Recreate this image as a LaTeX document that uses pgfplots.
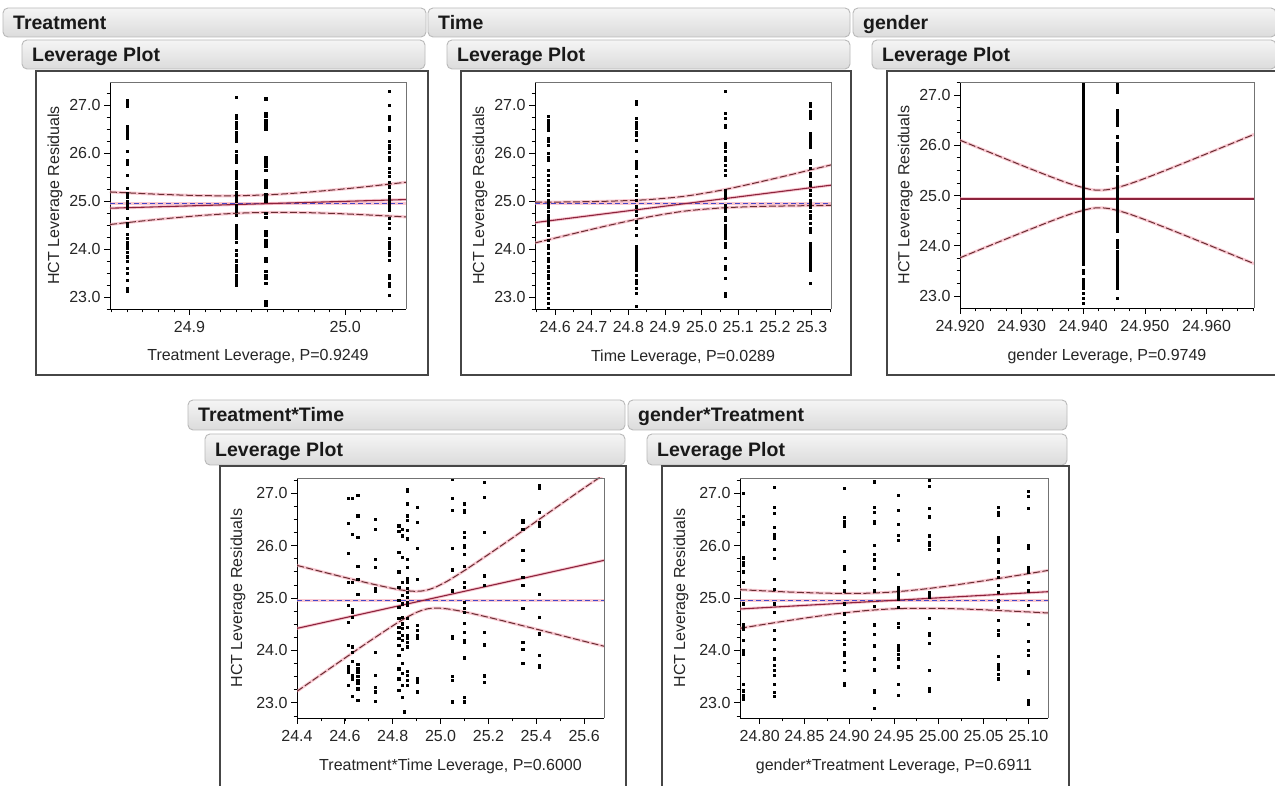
\documentclass[border=0pt]{standalone}
\usepackage{pgfplots}
\pgfplotsset{compat=1.18}
\usepackage{fontspec}
\setmainfont{Liberation Sans}
\definecolor{haloc}{RGB}{245,165,180}
\definecolor{fitc}{RGB}{140,35,60}
\definecolor{cic}{RGB}{105,45,50}
\definecolor{meanc}{RGB}{70,70,200}
\definecolor{hdrb}{RGB}{185,185,185}
\definecolor{framec}{RGB}{70,70,70}
\pgfplotsset{
  lev/.style={
    scale only axis, anchor=south west, clip=true,
    axis x line*=bottom, axis y line*=left,
    axis line style={black, line width=0.9pt, -},
    tick align=outside,
    major tick length=6pt, minor tick length=3.5pt,
    every tick/.append style={black, line width=0.8pt},
    every minor tick/.append style={black, line width=0.7pt},
    tick label style={font=\fontsize{16}{18}\selectfont, text=black!85},
    xticklabel style={yshift=-3pt},
    label style={font=\fontsize{16}{18}\selectfont, text=black!85},
    ylabel={HCT Leverage Residuals},
    ytick={23,24,25,26,27},
    yticklabels={23.0,24.0,25.0,26.0,27.0},
    minor ytick={22.75,23,...,27.25},
    after end axis/.code={\draw[black!55, line width=0.8pt] (rel axis cs:0,1) -- (rel axis cs:1,1) -- (rel axis cs:1,0);},
  },
  pts/.style={only marks, mark=square*, mark size=1.1pt, mark options={fill=black, draw=none}},
  halo/.style={no marks, line width=3pt, color=haloc, opacity=0.6},
  fit/.style={no marks, line width=1.1pt, color=fitc},
  ci/.style={no marks, line width=1pt, color=cic, dash pattern=on 7pt off 2.5pt},
  mean/.style={no marks, line width=1pt, color=meanc, dash pattern=on 5pt off 3pt},
}
\newcommand{\hdr}[5]{%
  \draw[rounded corners=5pt, draw=hdrb, line width=0.9pt, top color=white!96!black, bottom color=white!86!black] (#1,#2) rectangle (#3,#4);
  \node[anchor=base west, font=\fontsize{19.5}{21}\selectfont\bfseries, inner sep=0pt, text=black!90] at ({#1+10},{(#2+#4)/2-7}) {#5};}
\begin{document}
\begin{tikzpicture}[x=1pt,y=1pt]
\useasboundingbox (0,0) rectangle (1275,786);
\fill[white] (0,0) rectangle (1275,786);
% chrome top row
\hdr{3}{749}{426}{778}{Treatment}
\hdr{428}{749}{850}{778}{Time}
\hdr{853}{749}{1276}{778}{gender}
\hdr{22}{717}{425}{746}{Leverage Plot}
\hdr{447}{717}{850}{746}{Leverage Plot}
\hdr{872}{717}{1276}{746}{Leverage Plot}
\draw[framec, line width=1.2pt, fill=white] (36,411) rectangle (428,715);
\draw[framec, line width=1.2pt, fill=white] (461,411) rectangle (851,715);
\draw[framec, line width=1.2pt, fill=white] (887,411) rectangle (1280,715);
% chrome bottom row
\hdr{188}{356}{625}{386}{Treatment*Time}
\hdr{628}{356}{1067}{386}{gender*Treatment}
\hdr{205}{321}{625}{352}{Leverage Plot}
\hdr{647}{321}{1067}{352}{Leverage Plot}
\draw[framec, line width=1.2pt, fill=white] (220,-5) rectangle (626,320);
\draw[framec, line width=1.2pt, fill=white] (662,-5) rectangle (1069,320);

% ---------- Panel 1: Treatment ----------
\begin{axis}[lev, at={(110pt,477pt)}, width=296pt, height=227pt,
  xmin=24.849, xmax=25.039, ymin=22.75, ymax=27.48,
  xtick={24.9,25.0}, xticklabels={24.9,25.0},
  minor xtick={24.85,24.86,...,25.03},
  xlabel={Treatment Leverage, P=0.9249},
  ylabel style={at={(axis description cs:-0.186,0.5)}, anchor=center},
  xlabel style={at={(axis description cs:0.5,-0.211)}, anchor=center}]
\addplot[halo] coordinates {(24.849,24.94) (25.039,24.94)};
\addplot[halo] coordinates {(24.849,24.850) (25.039,25.030)};
\addplot[halo, smooth] coordinates {(24.849,25.189) (24.87,25.155) (24.89,25.129) (24.91,25.111) (24.93,25.110) (24.95,25.129) (24.97,25.168) (24.99,25.224) (25.01,25.287) (25.039,25.391)};
\addplot[halo, smooth] coordinates {(24.849,24.511) (24.87,24.585) (24.89,24.649) (24.91,24.704) (24.93,24.744) (24.95,24.763) (24.97,24.761) (24.99,24.744) (25.01,24.717) (25.039,24.669)};
\addplot[mean] coordinates {(24.849,24.94) (25.039,24.94)};
\addplot[fit] coordinates {(24.849,24.850) (25.039,25.030)};
\addplot[ci, smooth] coordinates {(24.849,25.189) (24.87,25.155) (24.89,25.129) (24.91,25.111) (24.93,25.110) (24.95,25.129) (24.97,25.168) (24.99,25.224) (25.01,25.287) (25.039,25.391)};
\addplot[ci, smooth] coordinates {(24.849,24.511) (24.87,24.585) (24.89,24.649) (24.91,24.704) (24.93,24.744) (24.95,24.763) (24.97,24.761) (24.99,24.744) (25.01,24.717) (25.039,24.669)};
\addplot[pts] coordinates {(24.860,27.10)(24.860,27.07)(24.860,27.01)(24.860,26.97)(24.860,26.55)(24.860,26.50)(24.860,26.44)(24.860,26.38)(24.860,26.31)(24.860,26.04)(24.860,25.85)(24.860,25.80)(24.860,25.76)(24.860,25.54)(24.860,25.26)(24.860,25.16)(24.860,25.09)(24.860,25.00)(24.860,24.95)(24.860,24.90)(24.860,24.85)(24.860,24.64)(24.860,24.53)(24.860,24.47)(24.860,24.31)(24.860,24.22)(24.860,24.15)(24.860,24.07)(24.860,24.01)(24.860,23.94)(24.860,23.84)(24.860,23.74)(24.860,23.60)(24.860,23.49)(24.860,23.35)(24.860,23.18)(24.860,23.12)};
\addplot[pts] coordinates {(24.930,27.17)(24.930,26.79)(24.930,26.72)(24.930,26.65)(24.930,26.58)(24.930,26.51)(24.930,26.44)(24.930,26.38)(24.930,26.31)(24.930,26.24)(24.930,26.03)(24.930,25.96)(24.930,25.89)(24.930,25.82)(24.930,25.61)(24.930,25.54)(24.930,25.47)(24.930,25.40)(24.930,25.33)(24.930,25.26)(24.930,25.19)(24.930,25.13)(24.930,25.06)(24.930,24.99)(24.930,24.92)(24.930,24.85)(24.930,24.78)(24.930,24.71)(24.930,24.50)(24.930,24.43)(24.930,24.36)(24.930,24.29)(24.930,24.22)(24.930,24.15)(24.930,23.98)(24.930,23.88)(24.930,23.77)(24.930,23.74)(24.930,23.67)(24.930,23.60)(24.930,23.53)(24.930,23.46)(24.930,23.39)(24.930,23.32)(24.930,23.25)};
\addplot[pts] coordinates {(24.949,27.13)(24.949,26.83)(24.949,26.76)(24.949,26.69)(24.949,26.62)(24.949,26.55)(24.949,26.50)(24.949,25.92)(24.949,25.85)(24.949,25.78)(24.949,25.72)(24.949,25.65)(24.949,25.44)(24.949,25.37)(24.949,25.30)(24.949,25.13)(24.949,25.06)(24.949,24.99)(24.949,24.74)(24.949,24.67)(24.949,24.36)(24.949,24.29)(24.949,24.19)(24.949,24.12)(24.949,24.05)(24.949,23.81)(24.949,23.74)(24.949,23.53)(24.949,23.46)(24.949,23.39)(24.949,23.28)(24.949,22.90)(24.949,22.83)};
\addplot[pts] coordinates {(25.028,27.29)(25.028,27.00)(25.028,26.76)(25.028,26.71)(25.028,26.53)(25.028,26.48)(25.028,26.25)(25.028,26.17)(25.028,26.10)(25.028,26.01)(25.028,25.92)(25.028,25.85)(25.028,25.68)(25.028,25.60)(25.028,25.51)(25.028,25.40)(25.028,25.30)(25.028,25.19)(25.028,25.09)(25.028,25.02)(25.028,24.95)(25.028,24.88)(25.028,24.81)(25.028,24.64)(25.028,24.53)(25.028,24.43)(25.028,24.22)(25.028,24.15)(25.028,24.08)(25.028,24.01)(25.028,23.94)(25.028,23.88)(25.028,23.77)(25.028,23.46)(25.028,23.39)(25.028,23.28)(25.028,23.22)(25.028,23.04)};
\end{axis}

% ---------- Panel 2: Time ----------
\begin{axis}[lev, at={(535pt,477pt)}, width=296pt, height=227pt,
  xmin=24.545, xmax=25.353, ymin=22.75, ymax=27.48,
  xtick={24.6,24.7,24.8,24.9,25.0,25.1,25.2,25.3},
  xticklabels={24.6,24.7,24.8,24.9,25.0,25.1,25.2,25.3},
  minor xtick={24.55,24.60,...,25.35},
  xlabel={Time Leverage, P=0.0289},
  ylabel style={at={(axis description cs:-0.186,0.5)}, anchor=center},
  xlabel style={at={(axis description cs:0.5,-0.211)}, anchor=center}]
\addplot[halo] coordinates {(24.545,24.94) (25.353,24.94)};
\addplot[halo] coordinates {(24.545,24.550) (25.353,25.330)};
\addplot[halo, smooth] coordinates {(24.545,24.974) (24.65,24.982) (24.75,24.997) (24.85,25.027) (24.95,25.096) (25.05,25.220) (25.15,25.383) (25.25,25.561) (25.353,25.752)};
\addplot[halo, smooth] coordinates {(24.545,24.126) (24.65,24.320) (24.75,24.499) (24.85,24.661) (24.95,24.786) (25.05,24.854) (25.15,24.885) (25.25,24.899) (25.353,24.908)};
\addplot[mean] coordinates {(24.545,24.94) (25.353,24.94)};
\addplot[fit] coordinates {(24.545,24.550) (25.353,25.330)};
\addplot[ci, smooth] coordinates {(24.545,24.974) (24.65,24.982) (24.75,24.997) (24.85,25.027) (24.95,25.096) (25.05,25.220) (25.15,25.383) (25.25,25.561) (25.353,25.752)};
\addplot[ci, smooth] coordinates {(24.545,24.126) (24.65,24.320) (24.75,24.499) (24.85,24.661) (24.95,24.786) (25.05,24.854) (25.15,24.885) (25.25,24.899) (25.353,24.908)};
\addplot[pts] coordinates {(24.58,26.76)(24.58,26.69)(24.58,26.62)(24.58,26.55)(24.58,26.48)(24.58,26.31)(24.58,26.24)(24.58,26.17)(24.58,25.99)(24.58,25.92)(24.58,25.85)(24.58,25.65)(24.58,25.54)(24.58,25.44)(24.58,25.33)(24.58,25.23)(24.58,25.13)(24.58,25.02)(24.58,24.95)(24.58,24.88)(24.58,24.78)(24.58,24.71)(24.58,24.64)(24.58,24.57)(24.58,24.50)(24.58,24.40)(24.58,24.29)(24.58,24.19)(24.58,24.08)(24.58,24.01)(24.58,23.91)(24.58,23.81)(24.58,23.74)(24.58,23.63)(24.58,23.53)(24.58,23.46)(24.58,23.39)(24.58,23.28)(24.58,23.18)(24.58,23.08)(24.58,22.97)(24.58,22.87)(24.58,22.77)};
\addplot[pts] coordinates {(24.821,27.08)(24.821,27.01)(24.821,26.72)(24.821,26.65)(24.821,26.58)(24.821,26.51)(24.821,26.44)(24.821,26.38)(24.821,26.27)(24.821,26.03)(24.821,25.82)(24.821,25.75)(24.821,25.68)(24.821,25.51)(24.821,25.33)(24.821,25.23)(24.821,25.13)(24.821,25.02)(24.821,24.88)(24.821,24.78)(24.821,24.71)(24.821,24.57)(24.821,24.43)(24.821,24.29)(24.821,24.05)(24.821,23.98)(24.821,23.91)(24.821,23.84)(24.821,23.77)(24.821,23.70)(24.821,23.63)(24.821,23.56)(24.821,23.46)(24.821,23.35)(24.821,23.28)(24.821,23.18)(24.821,23.08)(24.821,22.80)};
\addplot[pts] coordinates {(25.064,27.28)(25.064,26.83)(25.064,26.72)(25.064,26.58)(25.064,26.53)(25.064,26.20)(25.064,26.13)(25.064,26.03)(25.064,25.92)(25.064,25.85)(25.064,25.75)(25.064,25.65)(25.064,25.54)(25.064,25.23)(25.064,25.18)(25.064,25.14)(25.064,25.10)(25.064,25.06)(25.064,24.92)(25.064,24.85)(25.064,24.78)(25.064,24.67)(25.064,24.60)(25.064,24.50)(25.064,24.43)(25.064,24.36)(25.064,24.29)(25.064,24.22)(25.064,24.12)(25.064,24.05)(25.064,23.81)(25.064,23.63)(25.064,23.58)(25.064,23.39)(25.064,23.08)(25.064,23.01)};
\addplot[pts] coordinates {(25.297,27.03)(25.297,26.97)(25.297,26.86)(25.297,26.79)(25.297,26.72)(25.297,26.41)(25.297,26.34)(25.297,26.27)(25.297,26.20)(25.297,26.13)(25.297,25.85)(25.297,25.78)(25.297,25.68)(25.297,25.58)(25.297,25.51)(25.297,25.40)(25.297,25.33)(25.297,25.23)(25.297,25.13)(25.297,25.02)(25.297,24.95)(25.297,24.88)(25.297,24.78)(25.297,24.71)(25.297,24.64)(25.297,24.53)(25.297,24.43)(25.297,24.36)(25.297,24.12)(25.297,24.05)(25.297,23.98)(25.297,23.91)(25.297,23.84)(25.297,23.77)(25.297,23.70)(25.297,23.63)(25.297,23.56)(25.297,23.28)};
\end{axis}

% ---------- Panel 3: gender ----------
\begin{axis}[lev, at={(960pt,478pt)}, width=294pt, height=226pt,
  xmin=24.920, xmax=24.9677, ymin=22.76, ymax=27.26,
  xtick={24.92,24.93,24.94,24.95,24.96},
  xticklabels={24.920,24.930,24.940,24.950,24.960},
  minor xtick={24.92,24.9225,...,24.9675},
  xlabel={gender Leverage, P=0.9749},
  ylabel style={at={(axis description cs:-0.186,0.5)}, anchor=center},
  xlabel style={at={(axis description cs:0.5,-0.215)}, anchor=center}]
\addplot[halo] coordinates {(24.920,24.935) (24.9677,24.935)};
\addplot[halo, smooth] coordinates {(24.920,26.101) (24.925,25.850) (24.930,25.601) (24.935,25.360) (24.938,25.227) (24.941,25.125) (24.9427,25.105) (24.9445,25.128) (24.947,25.211) (24.950,25.341) (24.955,25.581) (24.960,25.830) (24.9677,26.217)};
\addplot[halo, smooth] coordinates {(24.920,23.759) (24.925,24.011) (24.930,24.259) (24.935,24.500) (24.938,24.633) (24.941,24.735) (24.9427,24.755) (24.9445,24.732) (24.947,24.650) (24.950,24.519) (24.955,24.279) (24.960,24.031) (24.9677,23.643)};
\addplot[mean] coordinates {(24.920,24.94) (24.9677,24.94)};
\addplot[fit] coordinates {(24.920,24.93) (24.9677,24.93)};
\addplot[ci, smooth] coordinates {(24.920,26.101) (24.925,25.850) (24.930,25.601) (24.935,25.360) (24.938,25.227) (24.941,25.125) (24.9427,25.105) (24.9445,25.128) (24.947,25.211) (24.950,25.341) (24.955,25.581) (24.960,25.830) (24.9677,26.217)};
\addplot[ci, smooth] coordinates {(24.920,23.759) (24.925,24.011) (24.930,24.259) (24.935,24.500) (24.938,24.633) (24.941,24.735) (24.9427,24.755) (24.9445,24.732) (24.947,24.650) (24.950,24.519) (24.955,24.279) (24.960,24.031) (24.9677,23.643)};
\addplot[pts] coordinates {(24.940,27.24)(24.940,27.18)(24.940,27.12)(24.940,27.06)(24.940,27.00)(24.940,26.94)(24.940,26.88)(24.940,26.82)(24.940,26.76)(24.940,26.70)(24.940,26.64)(24.940,26.58)(24.940,26.52)(24.940,26.46)(24.940,26.40)(24.940,26.34)(24.940,26.28)(24.940,26.22)(24.940,26.16)(24.940,26.10)(24.940,26.04)(24.940,25.98)(24.940,25.92)(24.940,25.86)(24.940,25.80)(24.940,25.74)(24.940,25.68)(24.940,25.62)(24.940,25.56)(24.940,25.50)(24.940,25.44)(24.940,25.38)(24.940,25.32)(24.940,25.26)(24.940,25.20)(24.940,25.14)(24.940,25.08)(24.940,25.02)(24.940,24.96)(24.940,24.90)(24.940,24.84)(24.940,24.78)(24.940,24.72)(24.940,24.66)(24.940,24.60)(24.940,24.54)(24.940,24.48)(24.940,24.42)(24.940,24.36)(24.940,24.30)(24.940,24.24)(24.940,24.18)(24.940,24.12)(24.940,24.06)(24.940,24.00)(24.940,23.94)(24.940,23.88)(24.940,23.82)(24.940,23.76)(24.940,23.70)(24.940,23.64)(24.940,23.52)(24.940,23.46)(24.940,23.34)(24.940,23.28)(24.940,23.22)(24.940,23.16)(24.940,23.05)(24.940,22.95)(24.940,22.85)};
\addplot[pts] coordinates {(24.9455,27.24)(24.9455,27.18)(24.9455,27.12)(24.9455,27.06)(24.9455,26.70)(24.9455,26.64)(24.9455,26.58)(24.9455,26.52)(24.9455,26.46)(24.9455,26.40)(24.9455,26.17)(24.9455,26.04)(24.9455,25.98)(24.9455,25.92)(24.9455,25.86)(24.9455,25.80)(24.9455,25.74)(24.9455,25.68)(24.9455,25.56)(24.9455,25.50)(24.9455,25.38)(24.9455,25.32)(24.9455,25.26)(24.9455,25.20)(24.9455,25.14)(24.9455,25.08)(24.9455,25.02)(24.9455,24.96)(24.9455,24.90)(24.9455,24.84)(24.9455,24.78)(24.9455,24.72)(24.9455,24.66)(24.9455,24.60)(24.9455,24.54)(24.9455,24.48)(24.9455,24.42)(24.9455,24.36)(24.9455,24.30)(24.9455,24.10)(24.9455,24.04)(24.9455,23.98)(24.9455,23.88)(24.9455,23.82)(24.9455,23.76)(24.9455,23.70)(24.9455,23.64)(24.9455,23.58)(24.9455,23.52)(24.9455,23.46)(24.9455,23.40)(24.9455,23.34)(24.9455,23.28)(24.9455,23.22)(24.9455,23.16)(24.9455,22.95)};
\end{axis}

% ---------- Panel 4: Treatment*Time ----------
\begin{axis}[lev, at={(297pt,68pt)}, width=307pt, height=240pt,
  xmin=24.4, xmax=25.683, ymin=22.71, ymax=27.29,
  xtick={24.4,24.6,24.8,25.0,25.2,25.4,25.6},
  xticklabels={24.4,24.6,24.8,25.0,25.2,25.4,25.6},
  minor xtick={24.4,24.5,...,25.6},
  xlabel={Treatment*Time Leverage, P=0.6000},
  ylabel style={at={(axis description cs:-0.192,0.5)}, anchor=center},
  xlabel style={at={(axis description cs:0.5,-0.2)}, anchor=center}]
\addplot[halo] coordinates {(24.4,24.95) (25.683,24.95)};
\addplot[halo] coordinates {(24.4,24.420) (25.683,25.718)};
\addplot[halo, smooth] coordinates {(24.4,25.622) (24.5,25.506) (24.6,25.392) (24.7,25.282) (24.8,25.182) (24.85,25.144) (24.9,25.127) (24.94,25.148) (24.98,25.209) (25.03,25.326) (25.1,25.525) (25.2,25.831) (25.3,26.145) (25.4,26.462) (25.5,26.781) (25.6,27.100) (25.683,27.356)};
\addplot[halo, smooth] coordinates {(24.4,23.219) (24.5,23.537) (24.6,23.853) (24.7,24.166) (24.8,24.469) (24.85,24.609) (24.9,24.726) (24.94,24.788) (24.98,24.808) (25.03,24.791) (25.1,24.735) (25.2,24.632) (25.3,24.520) (25.4,24.406) (25.5,24.290) (25.6,24.174) (25.683,24.080)};
\addplot[mean] coordinates {(24.4,24.95) (25.683,24.95)};
\addplot[fit] coordinates {(24.4,24.420) (25.683,25.718)};
\addplot[ci, smooth] coordinates {(24.4,25.622) (24.5,25.506) (24.6,25.392) (24.7,25.282) (24.8,25.182) (24.85,25.144) (24.9,25.127) (24.94,25.148) (24.98,25.209) (25.03,25.326) (25.1,25.525) (25.2,25.831) (25.3,26.145) (25.4,26.462) (25.5,26.781) (25.6,27.100) (25.683,27.356)};
\addplot[ci, smooth] coordinates {(24.4,23.219) (24.5,23.537) (24.6,23.853) (24.7,24.166) (24.8,24.469) (24.85,24.609) (24.9,24.726) (24.94,24.788) (24.98,24.808) (25.03,24.791) (25.1,24.735) (25.2,24.632) (25.3,24.520) (25.4,24.406) (25.5,24.290) (25.6,24.174) (25.683,24.080)};
\addplot[pts] coordinates {(24.615,26.90)(24.615,26.42)(24.615,25.86)(24.615,25.30)(24.615,24.86)(24.615,24.54)(24.615,24.10)(24.615,23.70)(24.615,23.64)(24.615,23.59)(24.615,23.34)
(24.632,26.90)(24.632,26.21)(24.632,25.30)(24.632,24.78)(24.632,24.73)(24.632,24.64)(24.632,24.07)(24.632,23.97)(24.632,23.79)(24.632,23.53)(24.632,23.46)(24.632,23.13)
(24.654,26.96)(24.654,26.57)(24.654,26.16)(24.654,25.60)(24.654,25.36)(24.654,25.08)(24.654,23.73)(24.654,23.65)(24.654,23.59)(24.654,23.50)(24.654,23.43)(24.654,23.37)(24.654,23.27)(24.654,23.05)
(24.726,26.51)(24.726,26.32)(24.726,25.74)(24.726,25.59)(24.726,25.18)(24.726,25.13)(24.726,23.97)(24.726,23.53)(24.726,23.30)(24.726,23.21)(24.726,23.03)};
\addplot[pts] coordinates {(24.825,26.38)(24.838,26.32)(24.825,26.28)(24.838,26.19)(24.825,25.88)(24.838,25.78)(24.825,25.50)(24.838,25.30)(24.825,25.21)(24.838,25.05)(24.825,24.96)(24.838,24.89)(24.825,24.83)(24.838,24.64)(24.825,24.61)(24.838,24.51)(24.825,24.45)(24.838,24.42)(24.825,24.35)(24.838,24.29)(24.825,24.24)(24.838,24.19)(24.825,24.10)(24.838,24.03)(24.825,23.91)(24.838,23.75)(24.825,23.65)(24.838,23.56)(24.825,23.46)(24.838,23.34)(24.825,23.24)(24.838,23.11)
(24.862,27.08)(24.862,27.04)(24.862,26.80)(24.862,26.57)(24.862,26.48)(24.862,26.29)(24.862,26.13)(24.862,25.74)(24.862,25.59)(24.862,25.37)(24.862,25.30)(24.862,25.18)(24.862,25.11)(24.862,25.02)(24.862,24.92)(24.862,24.86)(24.862,24.61)(24.862,24.45)(24.862,24.29)(24.862,24.23)(24.862,24.16)(24.862,24.07)(24.862,23.60)(24.862,23.53)(24.862,23.43)(24.862,23.34)(24.848,22.83)
(24.903,26.73)(24.903,26.45)(24.903,25.95)(24.903,25.36)(24.903,24.48)(24.903,24.38)(24.903,24.29)(24.903,24.23)(24.903,23.46)(24.903,23.40)(24.903,23.21)};
\addplot[pts] coordinates {(25.050,27.27)(25.050,26.90)(25.050,26.68)(25.050,25.95)(25.050,25.54)(25.050,25.14)(25.050,24.26)(25.050,24.23)(25.050,23.51)(25.050,23.43)(25.050,23.02)
(25.100,26.80)(25.100,26.67)(25.100,26.64)(25.100,26.26)(25.100,26.16)(25.100,26.00)(25.100,25.97)(25.100,25.84)(25.100,25.60)(25.100,25.30)(25.100,25.21)(25.100,24.92)(25.100,24.80)(25.100,24.73)(25.100,24.52)(25.100,24.35)(25.100,24.19)(25.100,24.15)(25.100,23.86)(25.100,23.10)(25.100,23.02)
(25.182,27.21)(25.182,26.92)(25.182,26.26)(25.182,25.44)(25.182,25.42)(25.182,25.24)(25.182,24.35)(25.182,24.11)(25.182,23.53)(25.182,23.50)(25.182,23.40)
(25.343,26.48)(25.343,26.45)(25.343,26.32)(25.343,25.91)(25.343,25.72)(25.343,25.40)(25.343,25.24)(25.343,24.80)(25.343,24.16)(25.343,24.03)(25.343,23.76)
(25.413,27.15)(25.413,27.10)(25.413,26.64)(25.413,26.45)(25.413,26.42)(25.413,26.38)(25.413,25.07)(25.413,24.64)(25.413,24.32)(25.413,23.91)(25.413,23.72)(25.413,23.69)};
\end{axis}

% ---------- Panel 5: gender*Treatment ----------
\begin{axis}[lev, at={(740pt,68pt)}, width=308pt, height=240pt,
  xmin=24.778, xmax=25.122, ymin=22.71, ymax=27.29,
  xtick={24.80,24.85,24.90,24.95,25.00,25.05,25.10},
  xticklabels={24.80,24.85,24.90,24.95,25.00,25.05,25.10},
  minor xtick={24.800,24.825,...,25.100},
  xlabel={gender*Treatment Leverage, P=0.6911},
  ylabel style={at={(axis description cs:-0.192,0.5)}, anchor=center},
  xlabel style={at={(axis description cs:0.5,-0.2)}, anchor=center}]
\addplot[halo] coordinates {(24.778,24.95) (25.122,24.95)};
\addplot[halo] coordinates {(24.778,24.790) (25.122,25.120)};
\addplot[halo, smooth] coordinates {(24.778,25.159) (24.80,25.140) (24.83,25.116) (24.86,25.098) (24.89,25.088) (24.92,25.091) (24.95,25.116) (24.98,25.164) (25.01,25.228) (25.04,25.302) (25.07,25.381) (25.10,25.464) (25.122,25.526)};
\addplot[halo, smooth] coordinates {(24.778,24.422) (24.80,24.483) (24.83,24.564) (24.86,24.640) (24.89,24.708) (24.92,24.761) (24.95,24.794) (24.98,24.804) (25.01,24.798) (25.04,24.782) (25.07,24.759) (25.10,24.734) (25.122,24.714)};
\addplot[mean] coordinates {(24.778,24.95) (25.122,24.95)};
\addplot[fit] coordinates {(24.778,24.790) (25.122,25.120)};
\addplot[ci, smooth] coordinates {(24.778,25.159) (24.80,25.140) (24.83,25.116) (24.86,25.098) (24.89,25.088) (24.92,25.091) (24.95,25.116) (24.98,25.164) (25.01,25.228) (25.04,25.302) (25.07,25.381) (25.10,25.464) (25.122,25.526)};
\addplot[ci, smooth] coordinates {(24.778,24.422) (24.80,24.483) (24.83,24.564) (24.86,24.640) (24.89,24.708) (24.92,24.761) (24.95,24.794) (24.98,24.804) (25.01,24.798) (25.04,24.782) (25.07,24.759) (25.10,24.734) (25.122,24.714)};
\addplot[pts] coordinates {(24.782,27.00)(24.782,26.56)(24.782,26.44)(24.782,26.41)(24.782,25.77)(24.782,25.68)(24.782,25.62)(24.782,25.50)(24.782,25.30)(24.782,24.89)(24.782,24.50)(24.782,24.46)(24.782,24.41)(24.782,24.19)(24.782,24.00)(24.782,23.97)(24.782,23.93)(24.782,23.36)(24.782,23.23)(24.782,23.14)(24.782,23.08)
(24.816,27.11)(24.816,26.73)(24.816,26.62)(24.816,26.35)(24.816,26.22)(24.816,26.19)(24.816,26.14)(24.816,25.93)(24.816,25.76)(24.816,25.36)(24.816,25.17)(24.816,24.89)(24.816,24.73)(24.816,24.38)(24.816,24.22)(24.816,24.03)(24.816,23.84)(24.816,23.71)(24.816,23.62)(24.816,23.52)(24.816,23.36)(24.816,23.20)(24.816,23.13)
(24.894,27.09)(24.894,26.54)(24.894,26.47)(24.894,26.43)(24.894,26.37)(24.894,25.89)(24.894,25.60)(24.894,25.55)(24.894,25.31)(24.894,25.14)(24.894,24.89)(24.894,24.70)(24.894,24.54)(24.894,24.35)(24.894,24.22)(24.894,24.12)(24.894,23.97)(24.894,23.91)(24.894,23.77)(24.894,23.62)(24.894,23.38)(24.894,23.33)
(24.928,27.22)(24.928,26.73)(24.928,26.64)(24.928,26.47)(24.928,26.43)(24.928,26.00)(24.928,25.84)(24.928,25.73)(24.928,25.58)(24.928,25.36)(24.928,25.14)(24.928,24.84)(24.928,24.49)(24.928,24.31)(24.928,24.09)(24.928,23.84)(24.928,23.63)(24.928,23.23)(24.928,23.20)(24.928,22.89)};
\addplot[pts] coordinates {(24.955,26.96)(24.955,26.68)(24.955,26.41)(24.955,26.20)(24.955,26.10)(24.955,25.46)(24.955,25.20)(24.955,25.17)(24.955,25.10)(24.955,25.04)(24.955,24.98)(24.955,24.82)(24.955,24.52)(24.955,24.44)(24.955,24.10)(24.955,24.06)(24.955,24.00)(24.955,23.93)(24.955,23.84)(24.955,23.69)(24.955,23.35)(24.955,23.14)
(24.989,27.25)(24.989,27.13)(24.989,26.71)(24.989,26.55)(24.989,26.19)(24.989,26.06)(24.989,26.00)(24.989,25.93)(24.989,25.11)(24.989,25.06)(24.989,25.01)(24.989,24.61)(24.989,24.33)(24.989,24.30)(24.989,24.14)(24.989,23.62)(24.989,23.27)(24.989,23.22)
(25.066,26.74)(25.066,26.63)(25.066,26.58)(25.066,26.16)(25.066,26.12)(25.066,26.06)(25.066,25.92)(25.066,25.74)(25.066,25.69)(25.066,25.50)(25.066,25.39)(25.066,25.25)(25.066,25.11)(25.066,24.95)(25.066,24.82)(25.066,24.57)(25.066,24.38)(25.066,24.30)(25.066,23.89)(25.066,23.74)(25.066,23.70)(25.066,23.65)(25.066,23.55)(25.066,23.46)
(25.100,27.04)(25.100,26.95)(25.100,26.71)(25.100,26.00)(25.100,25.95)(25.100,25.58)(25.100,25.55)(25.100,25.50)(25.100,25.30)(25.100,25.14)(25.100,24.87)(25.100,24.50)(25.100,24.17)(25.100,24.00)(25.100,23.91)(25.100,23.60)(25.100,23.56)(25.100,23.04)(25.100,22.98)};
\end{axis}
\end{tikzpicture}
\end{document}
